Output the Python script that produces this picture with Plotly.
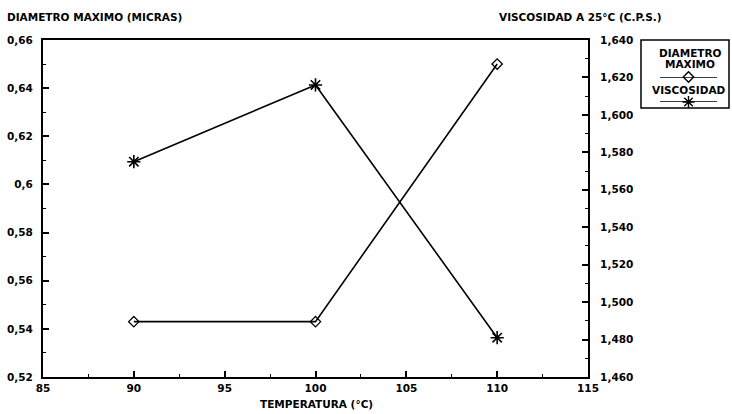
import plotly.graph_objects as go

# Temperatura de reacción (°C)
temperatura = [90, 100, 110]
# Diámetro máximo de partícula (micras)
diametro_maximo = [0.543, 0.543, 0.650]
# Viscosidad a 25 °C (c.p.s.)
viscosidad = [1.575, 1.616, 1.481]

x_ticks = [85, 90, 95, 100, 105, 110, 115]

W, H = 732, 414
ML, MR, MT, MB = 43, 3, 40, 37
PW = W - ML - MR           # ancho del área de trazado (paper)
PH = H - MT - MB
AXIS_W = 545               # ancho del eje principal en píxeles


def px_x(px):
    return (px - ML) / PW


def px_y(py):
    return (H - MB - py) / PH


FONT = dict(family="DejaVu Sans, Liberation Sans, sans-serif", size=10.5, color="black", weight="bold")
TITLE_FONT = dict(FONT, size=10.5)

fig = go.Figure()

fig.add_trace(go.Scatter(
    x=temperatura, y=diametro_maximo, name="DIAMETRO MAXIMO",
    mode="lines+markers", xaxis="x", yaxis="y",
    line=dict(color="black", width=1.6),
    marker=dict(symbol="diamond-open", size=8, color="black", line=dict(width=1.3, color="black")),
    showlegend=False,
))
fig.add_trace(go.Scatter(
    x=temperatura, y=viscosidad, name="VISCOSIDAD",
    mode="lines+markers", xaxis="x", yaxis="y2",
    line=dict(color="black", width=1.6),
    marker=dict(symbol="asterisk-open", size=11, color="black", line=dict(width=1.6, color="black")),
    showlegend=False,
))

# Muestras de la leyenda (eje auxiliar oculto dentro del recuadro)
for yv, sym, sz in [(1, "diamond-open", 8), (0, "asterisk-open", 10)]:
    fig.add_trace(go.Scatter(x=[0, 1], y=[yv, yv], mode="lines", xaxis="x3", yaxis="y3",
                             line=dict(color="black", width=1.3), showlegend=False,
                             hoverinfo="skip", cliponaxis=False))
    fig.add_trace(go.Scatter(x=[0.5], y=[yv], mode="markers", xaxis="x3", yaxis="y3",
                             marker=dict(symbol=sym, size=sz, color="black",
                                         line=dict(width=1.4, color="black")),
                             showlegend=False, hoverinfo="skip", cliponaxis=False))

axis_common = dict(
    showgrid=False, zeroline=False, showline=True, linecolor="black", linewidth=2,
    ticks="inside", ticklen=6, tickwidth=1.5, tickcolor="black",
    tickfont=FONT, automargin=False,
)

fig.update_layout(
    width=W, height=H,
    margin=dict(l=ML, r=MR, t=MT, b=MB, autoexpand=False),
    paper_bgcolor="white", plot_bgcolor="white",
    separators=",.",
    font=FONT,
    xaxis=dict(
        domain=[0, AXIS_W / PW], range=[85, 115], tickvals=x_ticks,
        mirror=True,
        minor=dict(dtick=2.5, ticks="inside", ticklen=3, tickwidth=1.2, tickcolor="black"),
        anchor="y",
        **axis_common,
    ),
    yaxis=dict(
        range=[0.52, 0.66], dtick=0.02, tick0=0.52, anchor="x",
        minor=dict(dtick=0.01, ticks="inside", ticklen=3, tickwidth=1.2, tickcolor="black"),
        ticklabelstandoff=6,
        **axis_common,
    ),
    yaxis2=dict(
        range=[1.46, 1.64], dtick=0.02, tick0=1.46, tickformat=".3f",
        overlaying="y", side="right", anchor="x",
        minor=dict(dtick=0.01, ticks="inside", ticklen=3, tickwidth=1.2, tickcolor="black"),
        ticklabelstandoff=8,
        **axis_common,
    ),
    xaxis3=dict(domain=[px_x(660), px_x(717)], range=[0, 1], visible=False,
                anchor="y3", automargin=False),
    yaxis3=dict(domain=[px_y(102), px_y(77)], range=[0, 1], visible=False,
                anchor="x3", automargin=False),
)

# Recuadro de la leyenda
fig.add_shape(type="rect", xref="paper", yref="paper",
              x0=px_x(641), x1=px_x(729), y0=px_y(108), y1=px_y(40),
              line=dict(color="black", width=1.5), fillcolor="rgba(0,0,0,0)")

annotations = [
    dict(text="DIAMETRO MAXIMO (MICRAS)", x=px_x(5), y=px_y(17), xanchor="left"),
    dict(text="VISCOSIDAD A 25°C (C.P.S.)", x=px_x(497), y=px_y(17), xanchor="left"),
    dict(text="TEMPERATURA (°C)", x=px_x(316), y=px_y(404), xanchor="center"),
    dict(text="DIAMETRO", x=px_x(690), y=px_y(53), xanchor="center"),
    dict(text="MAXIMO", x=px_x(690), y=px_y(64), xanchor="center"),
    dict(text="VISCOSIDAD", x=px_x(689), y=px_y(90), xanchor="center"),
]
for a in annotations:
    fig.add_annotation(xref="paper", yref="paper", showarrow=False, yanchor="middle",
                       font=TITLE_FONT, **a)

fig.write_html("out.html")
